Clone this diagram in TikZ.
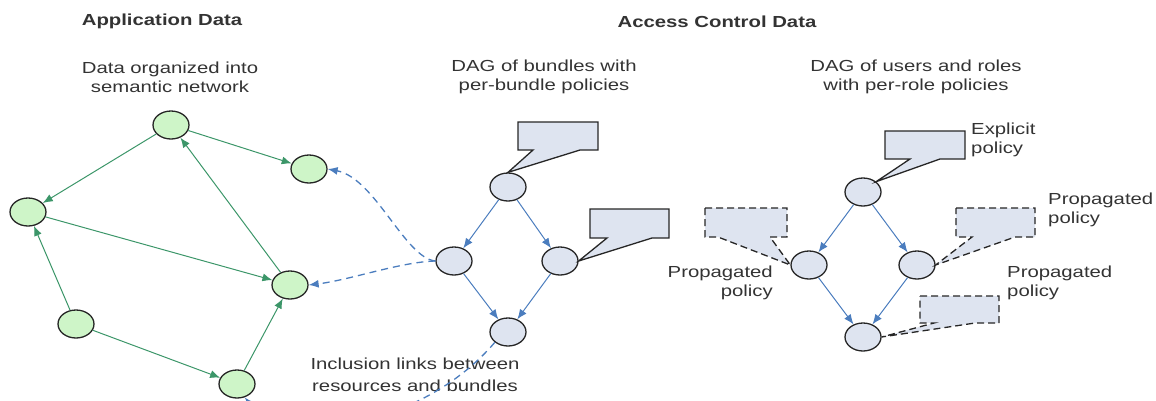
\documentclass[tikz,border=0pt]{standalone}
\usepackage{fontspec}
\setmainfont{Liberation Sans}[FakeStretch=1.27]
\usepackage{tikz}
\usetikzlibrary{arrows.meta,shapes.geometric}

\definecolor{verdenodo}{RGB}{206,245,200}
\definecolor{verdeenlace}{RGB}{60,150,105}
\definecolor{azuldag}{RGB}{75,125,190}
\definecolor{fondodag}{RGB}{222,228,240}

\begin{document}
\begin{tikzpicture}[x=1pt, y=-1pt,
  nodo/.style={ellipse, draw=black!85, line width=1.3pt, minimum width=36pt, minimum height=28pt, inner sep=0pt},
  recurso/.style={nodo, fill=verdenodo},
  dag/.style={nodo, fill=fondodag},
  enlace/.style={verdeenlace, line width=1pt, -{Latex[length=10pt,width=8pt]}},
  hereda/.style={azuldag, line width=1pt, -{Latex[length=10pt,width=8pt]}},
  incluye/.style={hereda, line width=1.3pt, dash pattern=on 7pt off 5pt},
  globo/.style={draw=black!85, fill=fondodag, line width=1.3pt, line join=miter},
  globop/.style={globo, dash pattern=on 7pt off 4pt},
  rotulo/.style={align=center, inner sep=1pt, text=black!80, font=\fontsize{16}{19}\selectfont},
  titulo/.style={rotulo, font=\fontsize{16}{19}\selectfont\bfseries}
]
  \useasboundingbox (0,0) rectangle (1156,400);

  % titulos
  \node[titulo] (tapp) at (162,21) {Application Data};
  \node[titulo] (tacc) at (717,22) {Access Control Data};
  \node[rotulo] (tsem) at (170,77) {Data organized into\\semantic network};
  \node[rotulo] (tbun) at (544,77) {DAG of bundles with\\per-bundle policies};
  \node[rotulo] (trol) at (916,77) {DAG of users and roles\\with per-role policies};
  \node[rotulo, font=\fontsize{16}{22}\selectfont] (tinc) at (415,375) {Inclusion links between\\resources and bundles};

  % red semantica
  \node[recurso] (a) at (171,125) {};
  \node[recurso] (b) at (309,169) {};
  \node[recurso] (c) at (28,212)  {};
  \node[recurso] (d) at (290,285) {};
  \node[recurso] (e) at (76,324)  {};
  \node[recurso] (f) at (237,384) {};
  \draw[enlace] (a) -- (c);
  \draw[enlace] (a) -- (b);
  \draw[enlace] (c) -- (d);
  \draw[enlace] (d) -- (a);
  \draw[enlace] (e) -- (c);
  \draw[enlace] (e) -- (f);
  \draw[enlace] (f) -- (d);

  % bundles
  \node[dag] (bt) at (508,187) {};
  \node[dag] (bl) at (454,261) {};
  \node[dag] (br) at (560,261) {};
  \node[dag] (bb) at (508,332) {};
  \draw[hereda] (bt) -- (bl);
  \draw[hereda] (bt) -- (br);
  \draw[hereda] (bl) -- (bb);
  \draw[hereda] (br) -- (bb);

  \draw[incluye] (bl.west) .. controls (405,258) and (375,178) .. (b.east);
  \draw[incluye] (bl.west) .. controls (400,262) and (350,280) .. (d.east);
  \draw[incluye] (bb.south west) .. controls (420,430) and (285,445) .. (f.-60);

  \draw[globo] (518,122) -| (598,150) -- (580,150) -- (bt.north) -- (533,150) -- (518,150) -- cycle;
  \draw[globo] (590,209) -| (669,238) -- (652,238) -- (br.east) -- (607,238) -- (590,238) -- cycle;

  % usuarios y roles
  \node[dag] (rt) at (863,192) {};
  \node[dag] (rl) at (809,265) {};
  \node[dag] (rr) at (917,265) {};
  \node[dag] (rb) at (863,337) {};
  \draw[hereda] (rt) -- (rl);
  \draw[hereda] (rt) -- (rr);
  \draw[hereda] (rl) -- (rb);
  \draw[hereda] (rr) -- (rb);

  \draw[globo]  (885,131) -| (965,159) -- (940,159) -- (rt.north east) -- (910,159) -- (885,159) -- cycle;
  \draw[globop] (705,208) -| (787,237) -- (770,237) -- (rl.west) -- (718,237) -- (705,237) -- cycle;
  \draw[globop] (956,208) -| (1035,237) -- (1015,237) -- (rr.east) -- (972,237) -- (956,237) -- cycle;
  \draw[globop] (920,296) -| (999,323) -- (975,323) -- (rb.east) -- (934,323) -- (920,323) -- cycle;

  \node[rotulo, align=left, anchor=west]  (pexp) at (970,140)  {Explicit\\policy};
  \node[rotulo, align=left, anchor=west]  (pder) at (1047,210) {Propagated\\policy};
  \node[rotulo, align=right, anchor=east] (pizq) at (774,283)  {Propagated\\policy};
  \node[rotulo, align=left, anchor=west]  (pinf) at (1006,283) {Propagated\\policy};
\end{tikzpicture}
\end{document}
